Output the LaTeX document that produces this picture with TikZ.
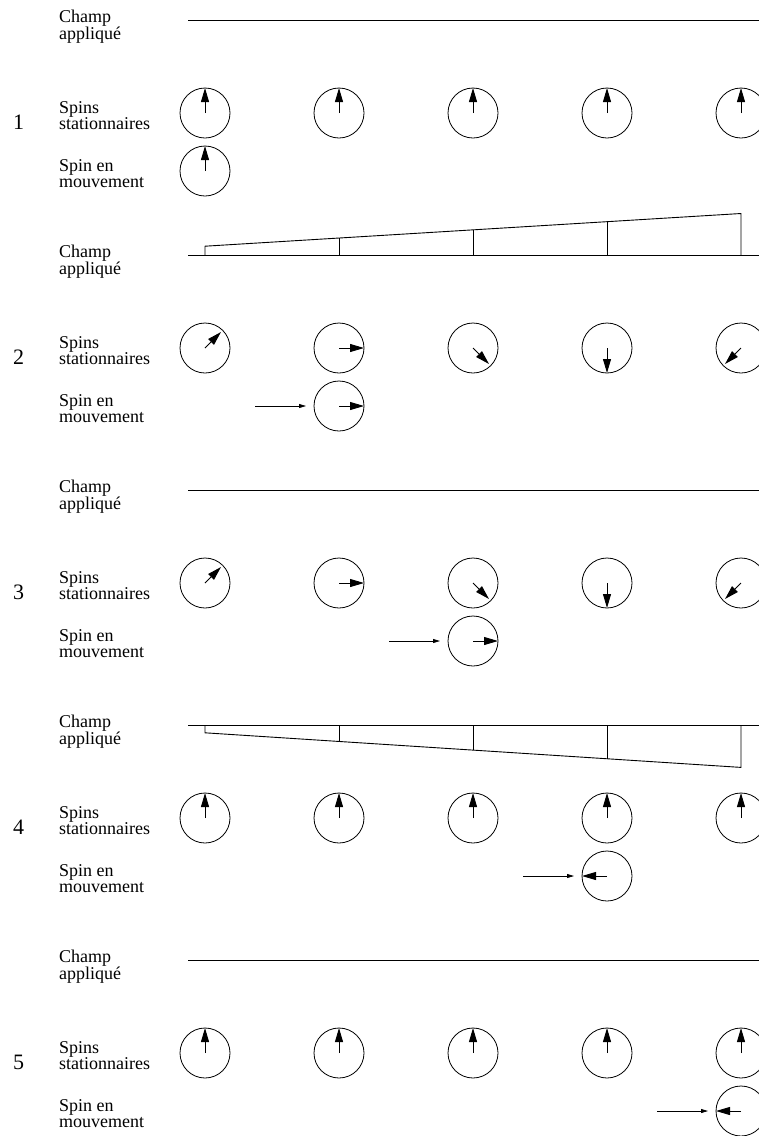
\documentclass[tikz,border=0pt]{standalone}
\usepackage{fontspec}
\setmainfont{Liberation Serif}
\usetikzlibrary{arrows.meta,calc}
\tikzset{
 spin/.style={circle,draw,line width=0.8pt,minimum size=50pt,inner sep=0pt,outer sep=0pt},
 spinarrow/.style={line width=0.9pt,-{Triangle[length=14pt,width=8pt]}},
 inarrow/.style={line width=0.8pt,-{Triangle[length=7pt,width=4pt]},shorten >=8pt},
 fieldline/.style={line width=0.9pt},
 lbl/.style={anchor=base west,inner sep=0pt,font=\fontsize{18}{16}\selectfont},
 num/.style={anchor=base,inner sep=0pt,font=\fontsize{22}{24}\selectfont},
}
\newcommand{\twolines}[2]{\begin{tabular}[t]{@{}l@{}}#1\\#2\end{tabular}}
% #1 section number, #2 y, #3 list col/angle (screen angle)
\newcommand{\statrow}[3]{%
 \foreach \c/\a in {#3} {%
  \pgfmathsetmacro\X{205+134*(\c-1)}%
  \pgfmathsetmacro\L{mod(\a,90)==0 ? 25 : 22.6}%
  \node[spin] (st#1-\c) at (\X,#2) {};
  \draw[spinarrow] (st#1-\c.center) -- ++({0-(\a)}:\L);
 }}
\begin{document}
\begin{tikzpicture}[x=1pt,y=-1pt]
\useasboundingbox (0,0) rectangle (759,1136);
\clip (0,0) rectangle (759,1136);
% labels and field lines
\foreach \s in {0,...,4} {
  \pgfmathsetmacro\F{20.5+235*\s}
  \pgfmathsetmacro\S{\F+92.5}
  \pgfmathsetmacro\M{\F+150.5}
  \pgfmathtruncatemacro\k{\s+1}
  \node[lbl] (champ\k) at (59,\F+1.5) {\twolines{Champ}{appliqué}};
  \node[lbl] (stlab\k) at (59,\S) {\twolines{Spins}{stationnaires}};
  \node[lbl] (mvlab\k) at (59,\M) {\twolines{Spin en}{mouvement}};
  \node[num] (num\k) at (18.5,\S+16) {\k};
  \coordinate (fa\k) at (188,\F);
  \coordinate (fb\k) at (762,\F);
  \draw[fieldline] (fa\k) -- (fb\k);
}
% gradient of section 2 (increasing upward)
\coordinate (g2a) at (205,255.5);
\coordinate (g2b) at (205,246.2);
\coordinate (g2c) at (741,213.5);
\coordinate (g2d) at (741,255.5);
\draw[fieldline] (g2a) -- (g2b) -- (g2c) -- (g2d);
\foreach \x/\t in {339/238.0,473/229.85,607/221.7} {
  \coordinate (g2t\x) at (\x,\t);
  \coordinate (g2b\x) at (\x,255.5);
  \draw[fieldline] (g2b\x) -- (g2t\x);
}
% gradient of section 4 (increasing downward)
\coordinate (g4a) at (205,725.5);
\coordinate (g4b) at (205,732.8);
\coordinate (g4c) at (741,767.4);
\coordinate (g4d) at (741,725.5);
\draw[fieldline] (g4a) -- (g4b) -- (g4c) -- (g4d);
\foreach \x/\t in {339/741.5,473/750.1,607/758.8} {
  \coordinate (g4t\x) at (\x,\t);
  \coordinate (g4b\x) at (\x,725.5);
  \draw[fieldline] (g4b\x) -- (g4t\x);
}
% stationary spins
\statrow{1}{113}{1/90,2/90,3/90,4/90,5/90}
\statrow{2}{348}{1/45,2/0,3/-45,4/-90,5/-135}
\statrow{3}{583}{1/45,2/0,3/-45,4/-90,5/-135}
\statrow{4}{818}{1/90,2/90,3/90,4/90,5/90}
\statrow{5}{1053}{1/90,2/90,3/90,4/90,5/90}
% moving spins
\node[spin] (mv1) at (205,171) {};
\draw[spinarrow] (mv1.center) -- (mv1.north);
\node[spin] (mv2) at (339,406) {};
\draw[spinarrow] (mv2.center) -- (mv2.east);
\node[spin] (mv3) at (473,641) {};
\draw[spinarrow] (mv3.center) -- (mv3.east);
\node[spin] (mv4) at (607,876) {};
\draw[spinarrow] (mv4.center) -- (mv4.west);
\node[spin] (mv5) at (741,1111) {};
\draw[spinarrow] (mv5.center) -- (mv5.west);
% incoming arrows
\coordinate (in2) at (255,406);
\coordinate (in3) at (389,641);
\coordinate (in4) at (523,876);
\coordinate (in5) at (657,1111);
\draw[inarrow] (in2) -- (mv2);
\draw[inarrow] (in3) -- (mv3);
\draw[inarrow] (in4) -- (mv4);
\draw[inarrow] (in5) -- (mv5);
\end{tikzpicture}
\end{document}
